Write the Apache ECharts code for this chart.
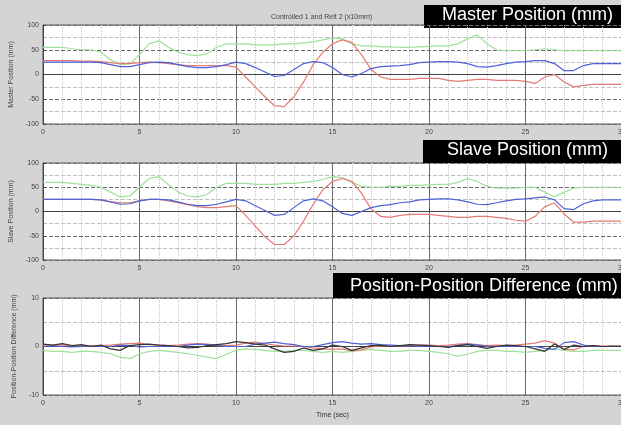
<!DOCTYPE html>
<html>
<head>
<meta charset="utf-8">
<script src="https://cdn.jsdelivr.net/npm/echarts@6/dist/echarts.min.js"></script>
<style>html,body{margin:0;padding:0;background:#d4d4d4}#c{width:621px;height:425px}</style>
</head>
<body>
<div id="c"></div>
<script>
// ---- data ----
const time = [0,0.5,1,1.5,2,2.5,3,3.5,4,4.5,5,5.5,6,6.5,7,7.5,8,8.5,9,9.5,10,10.5,11,11.5,12,12.5,13,13.5,14,14.5,15,15.5,16,16.5,17,17.5,18,18.5,19,19.5,20,20.5,21,21.5,22,22.5,23,23.5,24,24.5,25,25.5,26,26.5,27,27.5,28,28.5,29,29.5,30];
const xTicks = [0,5,10,15,20,25,30];

const masterBlue = [25,25,25,25,25,25,24,20,16,16,20,24,25,24,20,16,14,14,16,20,25,22,14,5,-4,-2,10,22,26,24,14,0,-5,2,12,16,17,18,20,24,25,26,26,25,22,16,15,18,22,25,26,28,28,22,8,8,18,22,22,22,22];
const masterRed = [28,28,28,28,27,27,26,24,22,22,24,25,24,22,20,18,18,18,18,18,15,-5,-25,-45,-63,-65,-45,-15,20,45,62,70,65,40,10,-5,-10,-10,-10,-8,-8,-8,-12,-14,-12,-10,-10,-12,-12,-12,-14,-18,-5,0,-15,-25,-22,-20,-20,-20,-20];
const masterGreen = [55,55,55,52,50,50,45,30,20,22,40,62,68,55,45,40,38,42,55,62,62,62,60,60,60,62,62,64,66,70,74,72,62,58,58,56,56,55,55,56,57,58,58,62,72,80,62,50,48,48,48,50,52,50,48,48,48,48,48,48,48];

const slaveBlue = [25,25,25,25,25,25,24,20,15,16,22,25,25,24,20,15,12,12,15,20,25,22,12,2,-8,-6,8,22,26,22,10,-4,-8,0,8,12,14,18,20,24,25,26,26,24,20,15,14,18,22,25,26,28,30,24,6,4,16,22,24,24,24];
const slaveRed = [25,25,25,25,25,25,24,20,18,18,22,25,25,22,18,14,10,8,8,10,12,-8,-30,-52,-68,-68,-50,-20,15,45,62,68,62,38,5,-10,-12,-8,-6,-6,-6,-8,-10,-12,-12,-10,-10,-12,-14,-18,-20,-10,10,18,-5,-22,-22,-20,-20,-20,-20];
const slaveGreen = [60,60,60,58,56,54,50,40,30,32,50,68,72,55,40,32,30,35,50,58,58,58,56,56,56,58,58,60,62,66,72,70,60,52,50,50,52,52,54,54,55,56,56,60,68,62,52,48,48,48,50,50,40,30,40,48,50,50,50,50,50];

const diffBlack = [0.5,0.3,0.6,0.2,0.4,0,0.3,-0.5,-0.8,0.2,0.4,0.5,0.3,0.2,0,-0.3,-0.2,0.2,0.4,0.6,1,0.8,0.5,0.3,-0.5,-1.2,-1,-0.3,-0.8,-0.5,0.3,0,-0.8,-0.3,0.2,0.3,0,0.2,0.4,0.3,0.2,0,-0.2,0.2,0.4,0,-0.4,0,0.3,0.2,0,-0.5,-1,0.5,-0.6,0.3,0,0.2,0,0.1,0];
const diffBlue = [0,0.1,0,-0.1,0,0,0,0,0.3,0.2,-0.1,0,0,0,0,0.3,0.5,0.4,0.2,0,0,0,0.5,0.7,0.9,0.6,0.4,0,0,0.4,0.8,1,0.7,0.5,0.6,0.4,0.3,0.2,0.1,0,0,0,0,0.2,0.5,0.3,0.1,0,0,0,0,0,-0.4,-0.6,0.8,1,0.3,0,0,0,0];
const diffRed = [0.3,0.3,0.3,0.2,0.2,0.2,0.2,0.3,0.5,0.6,0.7,0.4,0.3,0.2,0.3,0.5,0.6,0.5,0.3,0.2,0.3,0.7,0.9,0.6,0.3,0.1,0.1,0,-0.3,-0.5,-0.6,-0.5,-0.9,-0.7,-0.1,0.1,0.2,0.1,0.2,0.3,0.3,0.2,0.3,0.5,0.6,0.4,0.2,0.3,0.2,0.3,0.5,0.7,1.2,0.7,-0.6,-0.7,0,0.2,0.1,0.1,0.1];
const diffGreen = [-0.8,-1,-1,-1.2,-1,-1,-1.2,-1.5,-2.2,-2.5,-1.5,-1,-0.8,-1,-1.2,-1.5,-1.8,-2.2,-2.5,-1.6,-0.8,-0.5,-0.6,-0.8,-1,-1,-0.8,-0.8,-1,-1.2,-1,-1.2,-1,-0.8,-0.6,-0.8,-1,-1,-0.8,-0.8,-1,-1.2,-1.5,-2,-1.6,-1,-0.8,-0.8,-1,-1,-1.2,-1,-0.8,-0.5,-0.8,-1,-1,-0.8,-0.8,-0.8,-0.8];

const masterYTicks = [-100,-50,0,50,100];
const diffYTicks = [-10,0,10];
// -------------------------------------

const pairs = arr => time.map((t,i)=>[t,arr[i]]);
const chart = echarts.init(document.getElementById('c'), null, {renderer:'canvas'});
const FONT = 'Liberation Sans';
const grids = [
  {left:43, top:25, width:579, height:99},
  {left:43, top:163, width:579, height:97},
  {left:43, top:298, width:579, height:97}
];
function xAx(i, name){
  return {
    type:'value', gridIndex:i, min:xTicks[0], max:xTicks[xTicks.length-1], interval:5,
    name: name||'', nameLocation:'middle', nameGap:17,
    nameTextStyle:{fontFamily:FONT, fontSize:7, color:'#333'},
    axisLine:{show:true, lineStyle:{color:'#444', width:1}},
    axisTick:{show:true, inside:true, length:3, lineStyle:{color:'#444'}},
    minorTick:{show:false, splitNumber:5},
    axisLabel:{fontFamily:FONT, fontSize:7, color:'#444', margin:5},
    splitLine:{show:true, lineStyle:{color:'#6a6a6a', width:1, type:'solid'}},
    minorSplitLine:{show:true, lineStyle:{color:'#c4c4c4', width:1, type:'dotted'}}
  };
}
function yAx(i, name, ticks, interval){
  return {
    type:'value', gridIndex:i, min:ticks[0], max:ticks[ticks.length-1], interval:interval,
    name:name, nameLocation:'middle', nameGap:16, nameRotate:90,
    nameTextStyle:{fontFamily:FONT, fontSize:7, color:'#444'},
    axisLine:{show:true, lineStyle:{color:'#444', width:1}},
    axisTick:{show:true, inside:true, length:3, lineStyle:{color:'#444'}},
    minorTick:{show:false, splitNumber:2},
    axisLabel:{fontFamily:FONT, fontSize:7, color:'#444', margin:4},
    splitLine:{show:true, lineStyle:{color:'#6a6a6a', width:1, type:'dashed'}},
    minorSplitLine:{show:true, lineStyle:{color:'#bdbdbd', width:1, type:'dashed'}}
  };
}
function ln(xi, data, color, z){
  return {type:'line', xAxisIndex:xi, yAxisIndex:xi, data:pairs(data), showSymbol:false,
    lineStyle:{color:color, width:1.2}, itemStyle:{color:color}, z:z||2, animation:false};
}
const BLUE='#4d62d6', RED='#e57a72', GREEN='#9fe09a', BLACK='#333333';
chart.setOption({
  backgroundColor:'#d4d4d4',
  animation:false,
  grid: grids.map(g=>Object.assign({show:true, backgroundColor:'#ffffff', borderColor:'#555', borderWidth:1, outerBoundsMode:'none', containLabel:false}, g)),
  xAxis:[xAx(0), xAx(1), xAx(2,'Time (sec)')],
  yAxis:[yAx(0,'Master Position (mm)', masterYTicks, 50), yAx(1,'Slave Position (mm)', masterYTicks, 50), yAx(2,'Position-Position Difference (mm)', diffYTicks, 10)],
  series:[
    ln(0, masterGreen, GREEN), ln(0, masterRed, RED), ln(0, masterBlue, BLUE, 3),
    ln(1, slaveGreen, GREEN), ln(1, slaveRed, RED), ln(1, slaveBlue, BLUE, 3),
    ln(2, diffGreen, GREEN), ln(2, diffRed, RED), ln(2, diffBlue, BLUE), ln(2, diffBlack, BLACK, 4)
  ],
  graphic:[
    {type:'text', left:271, top:14, style:{text:'Controlled 1 and Relt 2 (x10mm)', font:'7px "Liberation Sans"', fill:'#444'}},
    {type:'rect', shape:{x:424, y:5, width:200, height:23}, style:{fill:'#000'}},
    {type:'text', left:442, top:6, style:{text:'Master Position (mm)', font:'18px "Liberation Sans"', fill:'#fff'}},
    {type:'rect', shape:{x:423, y:140, width:200, height:23}, style:{fill:'#000'}},
    {type:'text', left:447, top:141, style:{text:'Slave Position (mm)', font:'18px "Liberation Sans"', fill:'#fff'}},
    {type:'rect', shape:{x:333, y:273, width:290, height:25}, style:{fill:'#000'}},
    {type:'text', left:350, top:277, style:{text:'Position-Position Difference (mm)', font:'18px "Liberation Sans"', fill:'#fff'}}
  ]
});
</script>
</body>
</html>
